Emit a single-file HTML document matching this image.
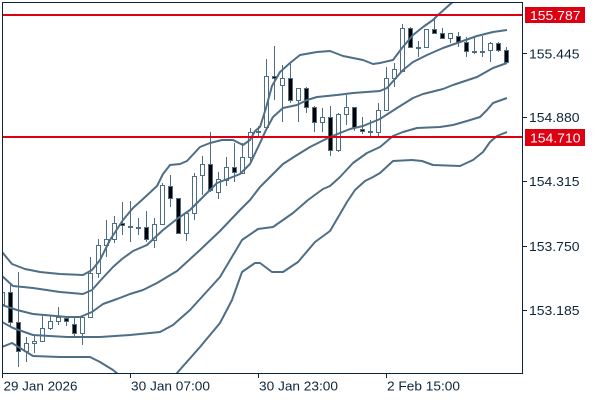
<!DOCTYPE html>
<html><head><meta charset="utf-8"><style>html,body{margin:0;padding:0;background:#fff}svg{display:block}</style></head>
<body>
<svg width="600" height="400" viewBox="0 0 600 400" xmlns="http://www.w3.org/2000/svg">
<defs><clipPath id="c"><rect x="3" y="3" width="519" height="370"/></clipPath></defs>
<rect width="600" height="400" fill="#fff"/>
<g clip-path="url(#c)">
<g stroke="#4e6e86" stroke-width="1">
<path fill="none" d="M2.5 289V306M10.5 283V326M18.5 272V367M26.5 337V362M34.5 335V353M42.5 316V341M50.5 316V330M58.5 307V325M66.5 316V326M74.5 318V337M82.5 315V345M90.5 257V317M98.5 239V278M106.5 220V257M114.5 216V243M122.5 202V235M130.5 201V242M138.5 218V235M146.5 211V242M154.5 218V248M162.5 183V224M170.5 175V207M178.5 198V233M186.5 213V241M194.5 173V220M202.5 156V195M210.5 132V192M218.5 172V199M226.5 157V186M234.5 143V182M242.5 143V173M250.5 128V162M258.5 126V136M266.5 59V130M274.5 46V100M282.5 65V122M290.5 62V103M298.5 88V122M306.5 87V113M314.5 106V132M322.5 108V132M330.5 106V156M338.5 113V152M346.5 95V125M354.5 107V131M362.5 117V134M370.5 120V137M378.5 103V137M386.5 67V110M394.5 63V87M402.5 24V71M410.5 27V48M418.5 41V57M426.5 29V47M434.5 17V33M442.5 28V39M450.5 33V43M458.5 32V47M466.5 37V57M474.5 37V54M482.5 36V57M490.5 42V62M498.5 42V52M506.5 47V63"/>
<g fill="#fff">
<rect x="0.5" y="292.5" width="4" height="12"/>
<rect x="24.5" y="343.5" width="4" height="8"/>
<rect x="32.5" y="341.5" width="4" height="2"/>
<rect x="40.5" y="328.5" width="4" height="13"/>
<rect x="48.5" y="321.5" width="4" height="7"/>
<rect x="56.5" y="317.5" width="4" height="4"/>
<rect x="80.5" y="317.5" width="4" height="16"/>
<rect x="88.5" y="273.5" width="4" height="44"/>
<rect x="96.5" y="245.5" width="4" height="28"/>
<rect x="104.5" y="239.5" width="4" height="6"/>
<rect x="112.5" y="223.5" width="4" height="16"/>
<rect x="128.5" y="226.5" width="4" height="1"/>
<rect x="136.5" y="227.5" width="4" height="1"/>
<rect x="152.5" y="224.5" width="4" height="16"/>
<rect x="160.5" y="185.5" width="4" height="39"/>
<rect x="184.5" y="213.5" width="4" height="20"/>
<rect x="192.5" y="176.5" width="4" height="37"/>
<rect x="200.5" y="164.5" width="4" height="11"/>
<rect x="216.5" y="179.5" width="4" height="13"/>
<rect x="224.5" y="167.5" width="4" height="13"/>
<rect x="240.5" y="157.5" width="4" height="16"/>
<rect x="248.5" y="132.5" width="4" height="25"/>
<rect x="256.5" y="131.5" width="4" height="1"/>
<rect x="264.5" y="76.5" width="4" height="51"/>
<rect x="280.5" y="78.5" width="4" height="7"/>
<rect x="296.5" y="88.5" width="4" height="12"/>
<rect x="320.5" y="117.5" width="4" height="5"/>
<rect x="336.5" y="114.5" width="4" height="36"/>
<rect x="344.5" y="107.5" width="4" height="7"/>
<rect x="368.5" y="131.5" width="4" height="1"/>
<rect x="376.5" y="110.5" width="4" height="22"/>
<rect x="384.5" y="78.5" width="4" height="32"/>
<rect x="392.5" y="69.5" width="4" height="9"/>
<rect x="400.5" y="28.5" width="4" height="43"/>
<rect x="416.5" y="47.5" width="4" height="1"/>
<rect x="424.5" y="29.5" width="4" height="18"/>
<rect x="448.5" y="33.5" width="4" height="5"/>
<rect x="472.5" y="51.5" width="4" height="1"/>
<rect x="480.5" y="51.5" width="4" height="1"/>
<rect x="488.5" y="43.5" width="4" height="7"/>
</g>
<g fill="#000">
<rect x="8.5" y="292.5" width="4" height="30"/>
<rect x="16.5" y="322.5" width="4" height="29"/>
<rect x="64.5" y="318.5" width="4" height="3"/>
<rect x="72.5" y="324.5" width="4" height="9"/>
<rect x="120.5" y="223.5" width="4" height="2"/>
<rect x="144.5" y="227.5" width="4" height="12"/>
<rect x="168.5" y="186.5" width="4" height="12"/>
<rect x="176.5" y="198.5" width="4" height="35"/>
<rect x="208.5" y="164.5" width="4" height="26"/>
<rect x="232.5" y="167.5" width="4" height="5"/>
<rect x="272.5" y="76.5" width="4" height="2"/>
<rect x="288.5" y="78.5" width="4" height="22"/>
<rect x="304.5" y="88.5" width="4" height="19"/>
<rect x="312.5" y="107.5" width="4" height="15"/>
<rect x="328.5" y="117.5" width="4" height="33"/>
<rect x="352.5" y="107.5" width="4" height="20"/>
<rect x="360.5" y="129.5" width="4" height="2"/>
<rect x="408.5" y="28.5" width="4" height="19"/>
<rect x="432.5" y="29.5" width="4" height="4"/>
<rect x="440.5" y="33.5" width="4" height="5"/>
<rect x="456.5" y="36.5" width="4" height="6"/>
<rect x="464.5" y="42.5" width="4" height="9"/>
<rect x="496.5" y="43.5" width="4" height="7"/>
<rect x="504.5" y="50.5" width="4" height="12"/>
</g>
</g>
<g fill="none" stroke="#4e6e86" stroke-width="2" stroke-linejoin="round">
<polyline points="2,252 12,264 25,269 40,272 60,274 83,275 92,270 100,260 110,240 123,220 133,208 143,199 157,186 163,174 170,165 180,164 187,161 200,147 210,143 222,140 233,140 243,145 250,140 255,131 260,127 266,108 272,86 280,72 290,63 300,55 317,52 330,51 343,56 363,60 373,64 380,63 393,60 402,48 413,35 423,27 433,20 438,15 447,7 455,0 462,-5"/>
<polyline points="2,276 13,286 33,288 60,292 83,294 92,290 100,281 113,267 122,259 133,251 147,245 163,230 177,219 190,210 200,200 207,193 217,183 230,178 240,174 250,164 260,143 266,130 273,117 283,108 297,105 307,100 317,97 337,95 353,93 380,91 387,88 395,79 403,70 413,62 427,55 443,48 460,42 477,36 493,32 507,30"/>
<polyline points="2,305 17,310 33,314 67,317 80,317 92,312 103,304 117,299 130,294 143,290 157,283 177,271 200,250 220,231 240,210 250,200 260,187 273,174 283,164 297,155 310,147 320,142 330,137 340,133 350,129 363,126 380,119 397,108 413,98 423,94 443,89 453,85 477,77 493,68 507,63"/>
<polyline points="2,322 13,328 33,335 67,337 100,337 130,335 160,332 173,325 190,310 200,299 220,277 242,240 258,229 273,227 283,220 293,213 308,200 323,189 330,186 340,177 353,163 367,153 380,147 393,136 403,132 417,128 440,127 453,125 467,121 480,117 487,110 493,103 507,98"/>
<polyline points="2,347 12,343 20,348 33,356 60,357 90,357 100,362 113,370 125,380 150,390 170,385 177,373 200,347 220,323 232,300 242,272 255,263 260,263 272,272 283,272 298,262 315,242 330,231 340,214 347,202 355,190 365,181 373,177 380,173 393,161 412,160 422,161 433,165 460,166 473,160 483,152 490,142 497,136 507,132"/>
</g>
</g>
<rect x="2" y="14" width="520" height="2" fill="#dc0012"/>
<rect x="2" y="136" width="520" height="2" fill="#dc0012"/>
<g stroke="#0c2539" stroke-width="1" fill="none">
<path d="M2.5 2V374M2 2.5H523M522.5 2V374M2 373.5H523"/>
<path d="M2.5 373V378M130.5 373V378M258.5 373V378M386.5 373V378"/>
<path d="M522 53.5H527M522 117.5H527M522 181.5H527M522 246.5H527M522 310.5H527"/>
</g>
<g font-family="Liberation Sans, DejaVu Sans, sans-serif" font-size="13" fill="#0c2539">
<text x="529" y="58.5" textLength="50.5" lengthAdjust="spacingAndGlyphs">155.445</text>
<text x="529" y="122" textLength="50.5" lengthAdjust="spacingAndGlyphs">154.880</text>
<text x="529" y="186" textLength="50.5" lengthAdjust="spacingAndGlyphs">154.315</text>
<text x="529" y="251" textLength="50.5" lengthAdjust="spacingAndGlyphs">153.750</text>
<text x="529" y="315" textLength="50.5" lengthAdjust="spacingAndGlyphs">153.185</text>
<text x="3.5" y="390.5" textLength="74" lengthAdjust="spacingAndGlyphs">29 Jan 2026</text>
<text x="131" y="390.5" textLength="79" lengthAdjust="spacingAndGlyphs">30 Jan 07:00</text>
<text x="259" y="390.5" textLength="79" lengthAdjust="spacingAndGlyphs">30 Jan 23:00</text>
<text x="387" y="390.5" textLength="73" lengthAdjust="spacingAndGlyphs">2 Feb 15:00</text>
</g>
<rect x="525" y="7" width="60" height="16" fill="#dc0012"/>
<rect x="525" y="129" width="60" height="17" fill="#dc0012"/>
<g font-family="Liberation Sans, DejaVu Sans, sans-serif" font-size="13" fill="#fff">
<text x="530" y="20" textLength="50.5" lengthAdjust="spacingAndGlyphs">155.787</text>
<text x="530" y="142.3" textLength="50.5" lengthAdjust="spacingAndGlyphs">154.710</text>
</g>
</svg>
</body></html>
